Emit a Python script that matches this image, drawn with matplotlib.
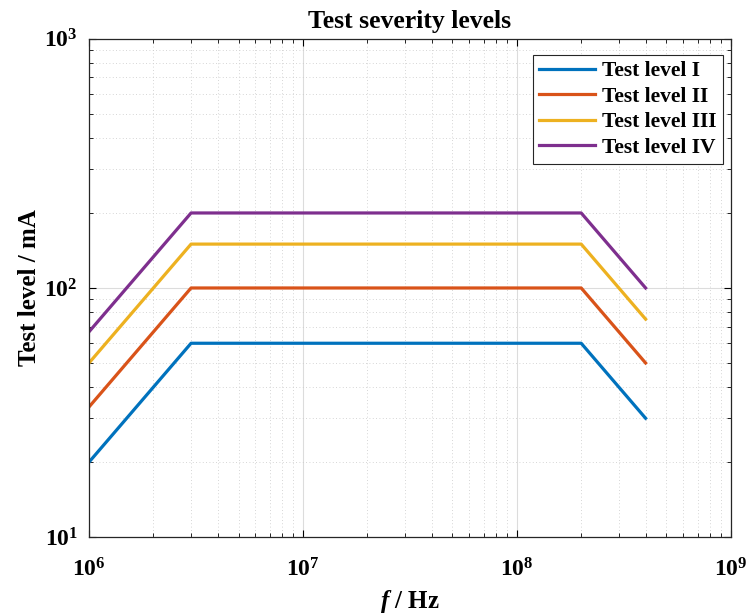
import numpy as np
import matplotlib.pyplot as plt

plt.rcParams['font.family'] = 'Liberation Serif'
plt.rcParams['font.weight'] = 'bold'
plt.rcParams['axes.labelweight'] = 'bold'
plt.rcParams['mathtext.fontset'] = 'custom'
plt.rcParams['mathtext.rm'] = 'Liberation Serif:bold'
plt.rcParams['mathtext.it'] = 'Liberation Serif:italic:bold'
plt.rcParams['mathtext.bf'] = 'Liberation Serif:bold'

# corner frequencies (Hz)
freq = [1e6, 3e6, 2e8, 4e8]
# test current per level (mA)
level_1 = [20, 60, 60, 30]
level_2 = [33.3, 100, 100, 50]
level_3 = [50, 150, 150, 75]
level_4 = [66.7, 200, 200, 100]
labels = ["Test level I", "Test level II", "Test level III", "Test level IV"]
colors = ["#0072BD", "#D95319", "#EDB120", "#7E2F8E"]

fig = plt.figure(figsize=(7.51, 6.16), dpi=100)
ax = fig.add_axes([0.1185, 0.128, 0.8545, 0.809])

for y, lab, c in zip([level_1, level_2, level_3, level_4], labels, colors):
    ax.plot(freq, y, color=c, lw=2.3, label=lab)

ax.set_xscale('log')
ax.set_yscale('log')
ax.set_xlim(1e6, 1e9)
ax.set_ylim(10, 1000)

ax.grid(True, which='major', color='#dcdcdc', lw=0.8)
ax.grid(True, which='minor', color='#c8c8c8', lw=0.6, ls=(0, (1, 3)))
ax.tick_params(which='both', direction='in', top=True, right=True, labelsize=17)
ax.tick_params(which='major', length=5, width=0.8)
ax.tick_params(which='minor', length=3, width=0.6)
ax.tick_params(axis='x', which='major', pad=15)
ax.tick_params(axis='y', which='major', pad=8)
for s in ax.spines.values():
    s.set_color('#262626')
    s.set_linewidth(0.9)

ax.set_title("Test severity levels", fontsize=18.5, fontweight='bold', pad=8)
ax.set_xlabel("$\\mathit{f}$ / Hz", fontsize=18, labelpad=5)
ax.set_ylabel("Test level / mA", fontsize=18, labelpad=2.5)

leg = ax.legend(loc='upper right', bbox_to_anchor=(0.9875, 0.968),
                prop={'family': 'Liberation Serif', 'weight': 'bold', 'size': 15.5},
                fancybox=False, framealpha=1, edgecolor='#262626',
                borderaxespad=0, handlelength=2.6, handletextpad=0.3,
                labelspacing=0.25, borderpad=0.3)
leg.get_frame().set_linewidth(0.8)

fig.savefig("out.png", dpi=100)
